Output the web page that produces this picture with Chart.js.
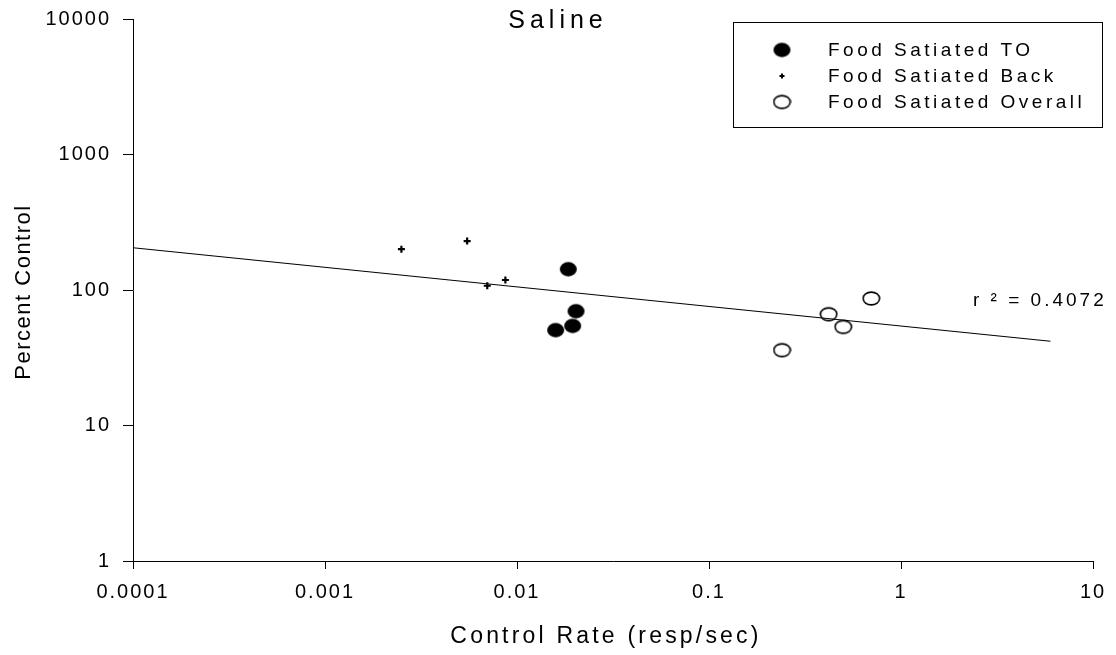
<!DOCTYPE html>
<html>
<head>
<meta charset="utf-8">
<script src="https://cdn.jsdelivr.net/npm/chart.js@4"></script>
<style>
    body { margin: 0; background: #fff; }
    #caixa { width: 1116px; height: 655px; }
</style>
</head>
<body>
<div id="caixa"><canvas id="graficoSaline"></canvas></div>
<script>
// eixos
const xTicks = [0.0001, 0.001, 0.01, 0.1, 1, 10];
const xTickLabels = ['0.0001', '0.001', '0.01', '0.1', '1', '10'];
const yTicks = [1, 10, 100, 1000, 10000];
const yTickLabels = ['1', '10', '100', '1000', '10000'];

// dados
const toX = [0.0185, 0.0203, 0.0195, 0.0159];
const toY = [143, 70, 54.5, 50.7];
const backX = [0.0025, 0.0055, 0.0070, 0.0087];
const backY = [201, 231, 108, 119];
const overallX = [0.70, 0.42, 0.50, 0.24];
const overallY = [87, 66.5, 53.6, 36.1];

// linha de regressao
const fitX = [0.0001, 6];
const fitY = [206, 42];

const pares = (xs, ys) => xs.map((x, i) => ({ x: x, y: ys[i] }));

// marcadores elipse (cheia / vazia)
function elipse(cheia) {
    const c = document.createElement('canvas');
    c.width = 19;
    c.height = 17;
    const g = c.getContext('2d');
    g.beginPath();
    g.ellipse(9.5, 8.5, cheia ? 8.5 : 8.2, cheia ? 7.2 : 6.4, 0, 0, Math.PI * 2);
    if (cheia) {
        g.fillStyle = '#000';
        g.fill();
    } else {
        g.strokeStyle = '#000';
        g.lineWidth = 1.6;
        g.stroke();
    }
    return c;
}
const marcaCheia = elipse(true);
const marcaVazia = elipse(false);

const fonte = '"Liberation Sans", Arial, sans-serif';
Chart.defaults.font.family = fonte;
Chart.defaults.font.size = 20;
Chart.defaults.color = '#000';

// textos: titulo, eixos, legenda e r2
const textos = {
    id: 'textos',
    beforeDraw(chart) {
        chart.ctx.letterSpacing = '2px';
    },
    afterDraw(chart) {
        const ctx = chart.ctx;
        ctx.save();
        ctx.fillStyle = '#000';
        ctx.strokeStyle = '#000';
        ctx.textBaseline = 'middle';

        ctx.font = '25px ' + fonte;
        ctx.letterSpacing = '5px';
        ctx.textAlign = 'center';
        ctx.fillText('Saline', 558, 21);

        ctx.font = '23px ' + fonte;
        ctx.letterSpacing = '3.2px';
        ctx.fillText('Control Rate (resp/sec)', 606, 637);

        ctx.save();
        ctx.translate(24, 292);
        ctx.rotate(-Math.PI / 2);
        ctx.font = '22px ' + fonte;
        ctx.letterSpacing = '1.5px';
        ctx.fillText('Percent Control', 0, 0);
        ctx.restore();

        // legenda
        ctx.lineWidth = 1;
        ctx.strokeRect(733.5, 22.5, 369, 105);
        ctx.drawImage(marcaCheia, 782 - marcaCheia.width / 2, 50 - marcaCheia.height / 2);
        ctx.drawImage(marcaVazia, 782 - marcaVazia.width / 2, 102 - marcaVazia.height / 2);
        ctx.lineWidth = 2;
        ctx.beginPath();
        ctx.moveTo(779.5, 76); ctx.lineTo(784.5, 76);
        ctx.moveTo(782, 73.5); ctx.lineTo(782, 78.5);
        ctx.stroke();

        ctx.font = '19px ' + fonte;
        ctx.letterSpacing = '3.5px';
        ctx.textAlign = 'left';
        ctx.fillText('Food Satiated TO', 828, 51);
        ctx.fillText('Food Satiated Back', 828, 77);
        ctx.fillText('Food Satiated Overall', 828, 103);

        ctx.letterSpacing = '3px';
        ctx.fillText('r \u00b2 = 0.4072', 973, 301);
        ctx.restore();
        ctx.letterSpacing = '0px';
    }
};

const dadosSaline = {
    datasets: [{
        label: 'Food Satiated TO',
        data: pares(toX, toY),
        pointStyle: marcaCheia,
        pointRadius: 8
    }, {
        label: 'Food Satiated Back',
        data: pares(backX, backY),
        pointStyle: 'cross',
        pointRadius: 3.5,
        borderWidth: 2.2,
        borderColor: '#000'
    }, {
        label: 'Food Satiated Overall',
        data: pares(overallX, overallY),
        pointStyle: marcaVazia,
        pointRadius: 8
    }, {
        type: 'line',
        label: 'fit',
        data: pares(fitX, fitY),
        borderColor: '#000',
        borderWidth: 1.2,
        pointRadius: 0,
        fill: false
    }]
};

const configSaline = {
    type: 'scatter',
    data: dadosSaline,
    plugins: [textos],
    options: {
        responsive: true,
        maintainAspectRatio: false,
        animation: false,
        events: [],
        layout: {
            padding: { top: 19, right: 23, left: 0, bottom: 0 }
        },
        scales: {
            x: {
                type: 'logarithmic',
                min: 0.0001,
                max: 10,
                afterBuildTicks: (s) => { s.ticks = xTicks.map(v => ({ value: v })); },
                afterFit: (s) => { s.height = 94; },
                ticks: {
                    maxRotation: 0,
                    autoSkip: false,
                    padding: 11,
                    callback: (v, i) => xTickLabels[i]
                },
                grid: { drawOnChartArea: false, tickLength: 8, color: '#000' },
                border: { color: '#000', width: 1 }
            },
            y: {
                type: 'logarithmic',
                min: 1,
                max: 10000,
                afterBuildTicks: (s) => { s.ticks = yTicks.map(v => ({ value: v })); },
                afterFit: (s) => { s.width = 133; },
                ticks: {
                    autoSkip: false,
                    padding: 12,
                    font: { lineHeight: 0.75 },
                    callback: (v, i) => yTickLabels[i]
                },
                grid: { drawOnChartArea: false, tickLength: 10, color: '#000' },
                border: { color: '#000', width: 1 }
            }
        },
        plugins: {
            legend: { display: false },
            title: { display: false },
            tooltip: { enabled: false }
        }
    }
};

new Chart(document.getElementById('graficoSaline').getContext('2d'), configSaline);
</script>
</body>
</html>
